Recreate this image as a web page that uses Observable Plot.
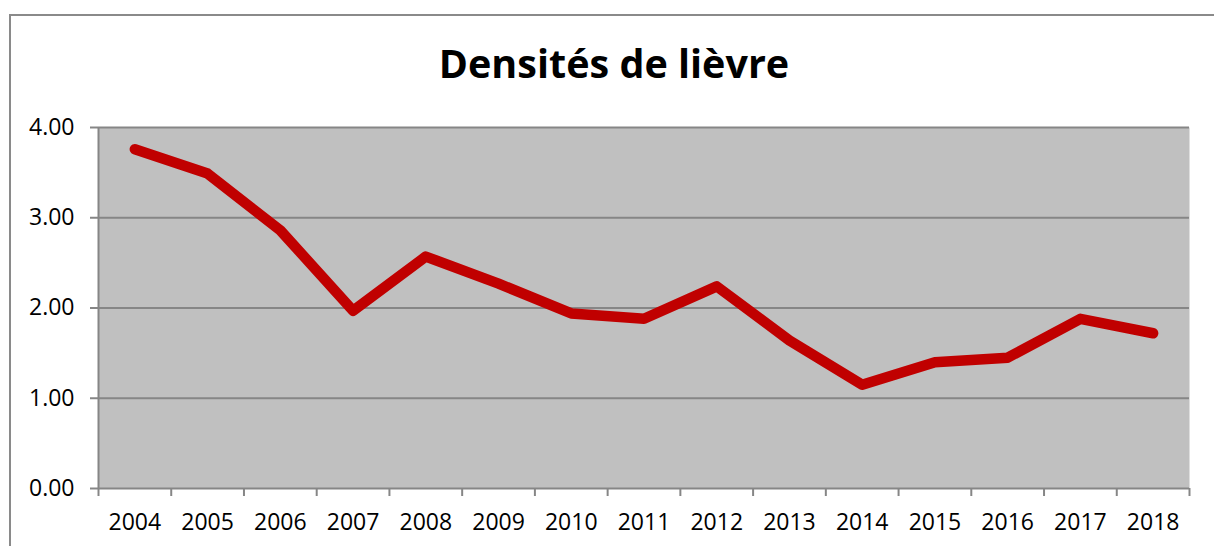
<!DOCTYPE html>
<html>
<head>
<meta charset="utf-8">
<script src="https://cdn.jsdelivr.net/npm/d3@7"></script>
<script src="https://cdn.jsdelivr.net/npm/@observablehq/plot@0.6"></script>
<style>
  html, body { margin: 0; padding: 0; background: #fff; }
  #wrap { position: relative; width: 1214px; height: 546px; overflow: hidden; }
  #frame { position: absolute; left: 9px; top: 14px; right: -10px; bottom: -10px;
           border-left: 2px solid #8a8a8a; border-top: 2px solid #8a8a8a; }
  #title { position: absolute; left: 0; width: 1228px; top: 44px; text-align: center;
           font-family: "Open Sans", sans-serif; font-weight: 700; font-size: 39.5px;
           line-height: 1; color: #000; }
  #chart { position: absolute; left: 0; top: 0; }
</style>
</head>
<body>
<div id="wrap">
  <div id="frame"></div>
  <div id="chart"></div>
  <div id="title">Densités de lièvre</div>
</div>
<script>
const years = [2004, 2005, 2006, 2007, 2008, 2009, 2010, 2011, 2012, 2013, 2014, 2015, 2016, 2017, 2018];
const densities = [3.76, 3.49, 2.86, 1.97, 2.57, 2.27, 1.94, 1.88, 2.24, 1.64, 1.15, 1.40, 1.45, 1.88, 1.72];
const yTicks = [0, 1, 2, 3, 4];

const data = years.map((y, i) => ({year: y, value: densities[i]}));
const boundaries = [years[0] - 0.5, ...years.map(y => y + 0.5)];

const chart = Plot.plot({
  width: 1214,
  height: 546,
  marginLeft: 98,
  marginRight: 25,
  marginTop: 127,
  marginBottom: 58,
  style: {fontFamily: "Open Sans, sans-serif", fontSize: "23px", color: "#000", background: "transparent", overflow: "visible"},
  x: {domain: [years[0] - 0.5, years[years.length - 1] + 0.5]},
  y: {domain: [0, 4]},
  marks: [
    Plot.frame({fill: "#c0c0c0", stroke: null}),
    Plot.ruleY(yTicks, {stroke: "#868686", strokeWidth: 2}),
    Plot.ruleX([boundaries[0]], {stroke: "#868686", strokeWidth: 2}),
    Plot.axisY({ticks: yTicks, tickFormat: d => d.toFixed(2), tickSize: 8, tickPadding: 16, stroke: "#868686", strokeWidth: 2, fill: "#000", label: null}),
    Plot.axisX({ticks: boundaries, tickFormat: () => "", tickSize: 8, stroke: "#868686", strokeWidth: 2, label: null}),
    Plot.axisX({ticks: years, tickFormat: d => String(d), tickSize: 0, tickPadding: 25, fill: "#000", label: null}),
    Plot.line(data, {x: "year", y: "value", stroke: "#c00000", strokeWidth: 10.5, strokeLinecap: "round", strokeLinejoin: "round"})
  ]
});
document.getElementById("chart").appendChild(chart);
</script>
</body>
</html>
